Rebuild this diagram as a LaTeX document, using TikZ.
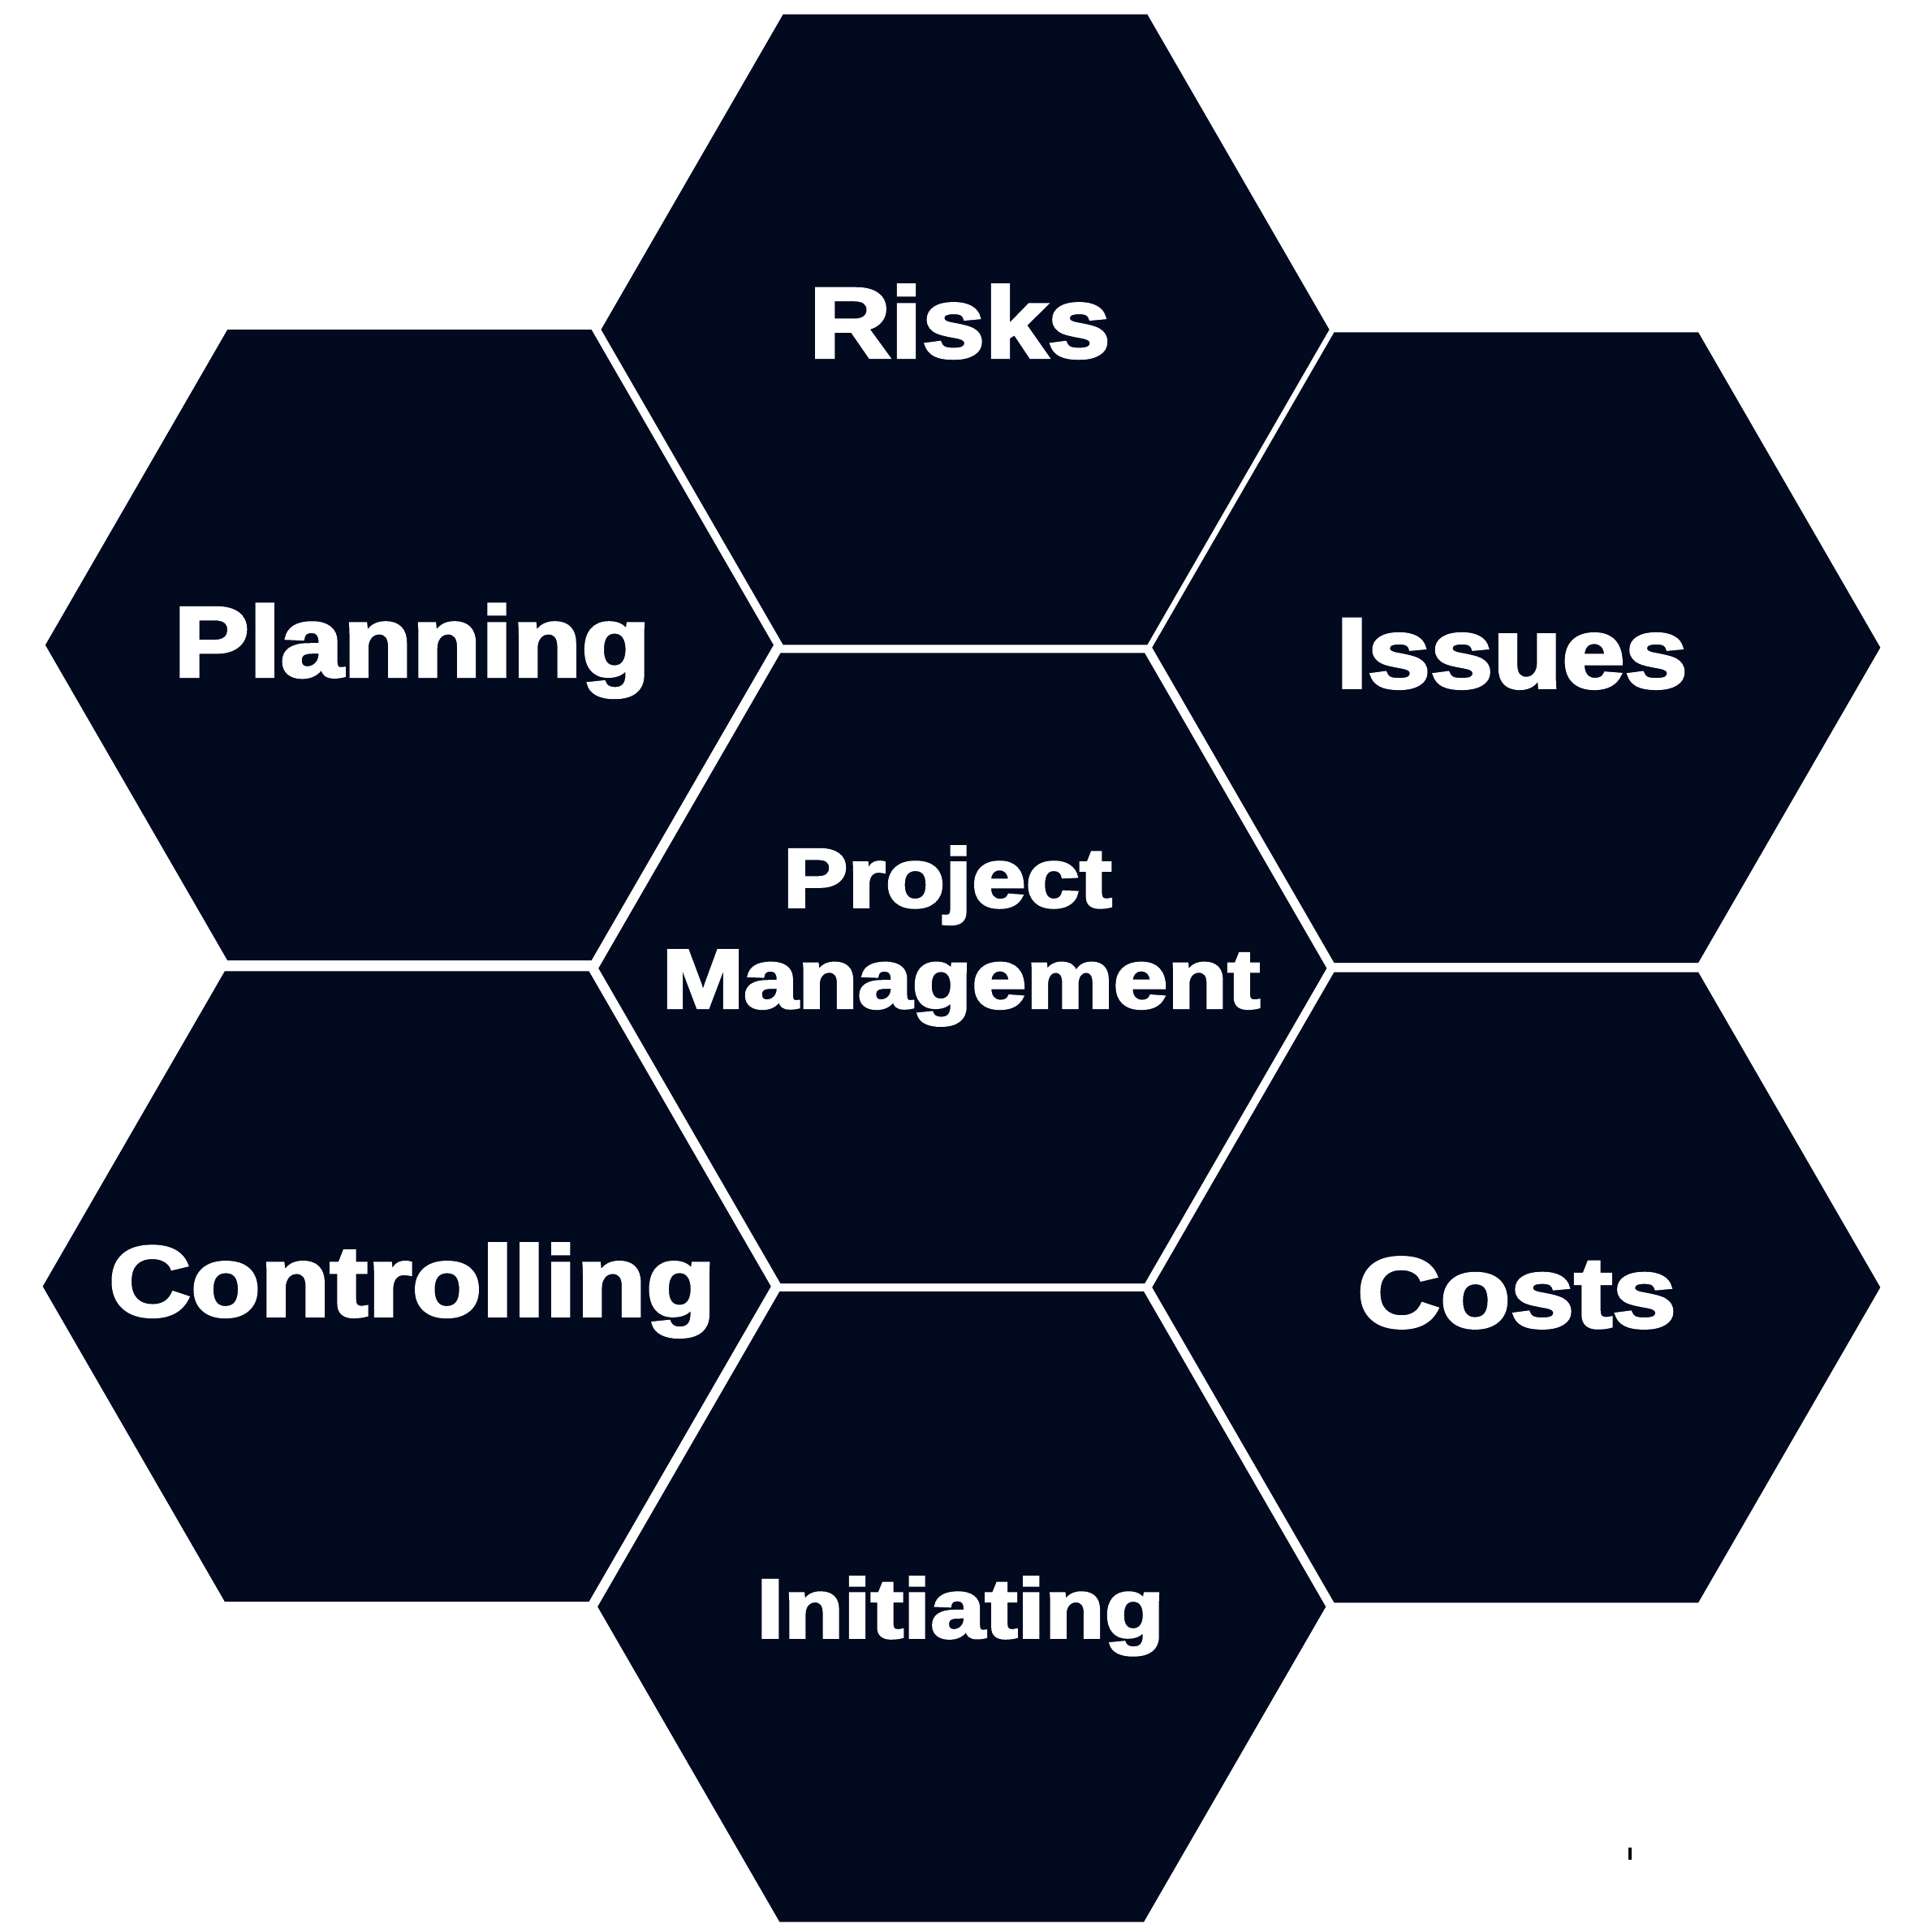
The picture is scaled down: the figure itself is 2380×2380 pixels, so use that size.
\documentclass[tikz,border=0pt]{standalone}
\usepackage{fontspec}
\setmainfont{Liberation Sans}[BoldFeatures={FakeBold=3}]
\usetikzlibrary{shapes.geometric}
\definecolor{hexnavy}{RGB}{2,10,32}
\begin{document}
\begin{tikzpicture}[x=1pt,y=-1pt,
  hexcell/.style={regular polygon,regular polygon sides=6,minimum size=897pt,
    inner sep=0pt,outer sep=0pt,fill=hexnavy,draw=none},
  biglabel/.style={anchor=base,text=white,inner sep=0pt,
    font=\fontsize{123}{130}\bfseries},
  smalllabel/.style={anchor=base,text=white,inner sep=0pt,
    font=\fontsize{103}{110}\bfseries}]
\useasboundingbox[fill=white] (0,0) rectangle (2380,2380);
% hexagons
\node[hexcell] (risks)  at (1189.0,406.0) {};
\node[hexcell] (plan)   at (504.4,794.6) {};
\node[hexcell] (issues) at (1867.8,797.7) {};
\node[hexcell] (pm)     at (1185.8,1192.8) {};
\node[hexcell] (ctrl)   at (501.2,1584.7) {};
\node[hexcell] (costs)  at (1867.8,1585.9) {};
\node[hexcell] (init)   at (1184.7,1979.3) {};
% labels
\node[biglabel] (trisks)  at (1182.4,440.2) {\scalebox{1.13}[1]{Risks}};
\node[biglabel] (tplan)   at (507.7,833.3) {\scalebox{1.13}[1]{Planning}};
\node[biglabel] (tissues) at (1862.5,847.0) {\scalebox{1.13}[1]{Issues}};
\node[smalllabel] (tproj) at (1167.3,1117.2) {\scalebox{1.16}[1]{Project}};
\node[smalllabel] (tmgmt) at (1184.0,1241.6) {\scalebox{1.17}[1]{Management}};
\node[biglabel] (tctrl)   at (507.7,1621.1) {\scalebox{1.14}[1]{Controlling}};
\node[biglabel] (tcosts)  at (1868.5,1634.8) {\scalebox{1.15}[1]{Costs}};
\node[smalllabel] (tinit) at (1183.2,2017.3) {\scalebox{1.17}[1]{Initiating}};
% small tick mark
\fill[black] (2006,2276) rectangle (2010,2291);
\end{tikzpicture}
\end{document}
